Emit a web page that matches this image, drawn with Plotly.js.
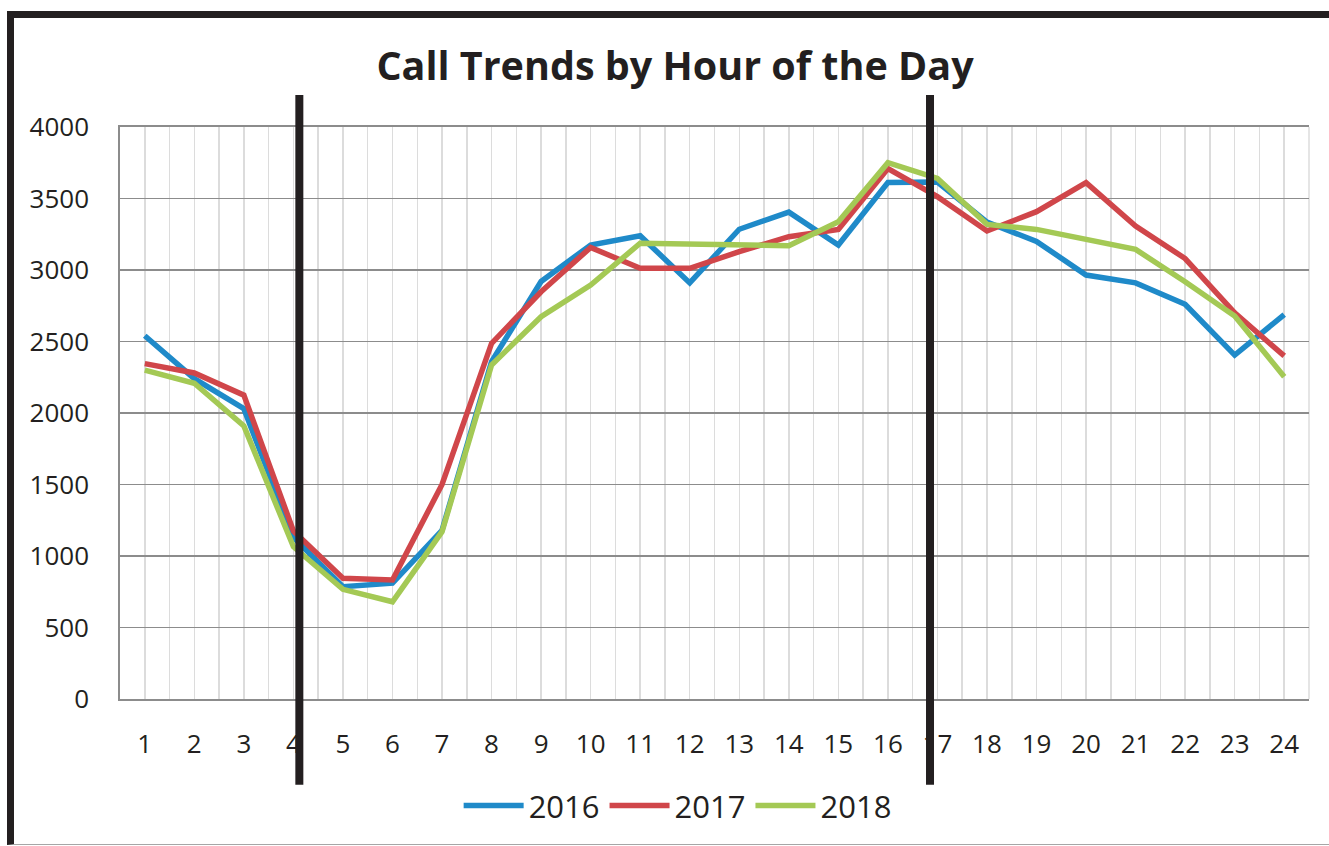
<!DOCTYPE html>
<html>
<head>
<meta charset="utf-8">
<script src="https://cdn.plot.ly/plotly-3.0.1.min.js"></script>
<style>
  html, body { margin: 0; padding: 0; background: #fff; }
  #wrap { position: relative; width: 1329px; height: 846px; overflow: hidden; }
  #chart { position: absolute; left: 0; top: 0; width: 1329px; height: 846px; }
  #frame { position: absolute; left: 7px; top: 11px; width: 1330px; height: 826px;
           border-top: 7px solid #231f20; border-left: 7px solid #231f20;
           border-bottom: 1px solid #a6a6a6; pointer-events: none; }
</style>
</head>
<body>
<div id="wrap">
  <div id="chart"></div>
  <div id="frame"></div>
</div>
<script>
const hours = [1,2,3,4,5,6,7,8,9,10,11,12,13,14,15,16,17,18,19,20,21,22,23,24];
const hourLabels = hours.map(String);
const calls2016 = [2540,2240,2030,1130,785,810,1180,2360,2920,3175,3240,2910,3285,3405,3175,3612,3615,3335,3200,2965,2910,2760,2405,2688];
const calls2017 = [2345,2280,2125,1175,844,832,1500,2487,2848,3158,3012,3012,3128,3233,3284,3709,3513,3273,3408,3611,3308,3080,2700,2399];
const calls2018 = [2300,2208,1910,1065,767,680,1170,2336,2673,2895,3187,3182,3170,3170,3338,3750,3640,3319,3284,3214,3144,2918,2678,2254];
const seriesNames = ['2016','2017','2018'];
const dividerHours = [4.12, 16.85];

const colors = ['#1f8ac9', '#d0464a', '#a4c955'];
const seriesData = [calls2016, calls2017, calls2018];

const traces = seriesData.map((vals, i) => ({
  x: hours,
  y: vals,
  type: 'scatter',
  mode: 'lines',
  name: seriesNames[i],
  line: { color: colors[i], width: 5.5 },
  hoverinfo: 'x+y+name'
}));

const shapes = [
  { type: 'line', xref: 'paper', yref: 'paper', x0: 1, x1: 1, y0: 0, y1: 1,
    line: { color: '#dcdcdc', width: 1.5 }, layer: 'below' }
].concat(dividerHours.map(h => ({
  type: 'line', xref: 'x', yref: 'paper',
  x0: h, x1: h, y0: -0.150, y1: 1.056,
  line: { color: '#231f20', width: 8 }
})));

const layout = {
  width: 1329, height: 846,
  margin: { l: 120, r: 20, t: 127, b: 147 },
  paper_bgcolor: '#ffffff', plot_bgcolor: '#ffffff',
  font: { family: 'Open Sans, sans-serif', color: '#231f20' },
  title: {
    text: 'Call Trends by Hour of the Day',
    font: { family: 'Open Sans, sans-serif', size: 39.5, weight: 'bold', color: '#231f20' },
    x: 675 / 1329, xanchor: 'center', xref: 'container',
    y: 1 - 66 / 846, yanchor: 'middle', yref: 'container'
  },
  xaxis: {
    type: 'linear', range: [0.5, 24.5],
    tickmode: 'array', tickvals: hours, ticktext: hourLabels,
    tickfont: { size: 26, color: '#231f20' },
    ticks: 'outside', ticklen: 21, tickcolor: 'rgba(0,0,0,0)',
    showgrid: true, gridcolor: '#dcdcdc', gridwidth: 1.5,
    minor: { tickmode: 'linear', tick0: 0.5, dtick: 1, showgrid: true, gridcolor: '#dcdcdc', gridwidth: 1.5, ticks: '' },
    zeroline: false, showline: true, mirror: true, linecolor: '#8c8c8c', linewidth: 1.8,
    fixedrange: true
  },
  yaxis: {
    range: [0, 4000], tickmode: 'linear', tick0: 0, dtick: 500,
    tickfont: { size: 26, color: '#231f20' },
    ticks: 'outside', ticklen: 24, tickcolor: 'rgba(0,0,0,0)',
    showgrid: true, gridcolor: '#8c8c8c', gridwidth: 1.8,
    zeroline: false, showline: true, linecolor: '#8c8c8c', linewidth: 1.8,
    fixedrange: true
  },
  shapes: shapes,
  showlegend: true,
  legend: {
    orientation: 'h', x: 0.469, xanchor: 'center', y: -0.187, yanchor: 'middle',
    font: { size: 31, color: '#231f20' },
    itemwidth: 60, tracegroupgap: 0, bgcolor: 'rgba(0,0,0,0)'
  }
};

Plotly.newPlot('chart', traces, layout, { displayModeBar: false, staticPlot: true });
</script>
</body>
</html>
